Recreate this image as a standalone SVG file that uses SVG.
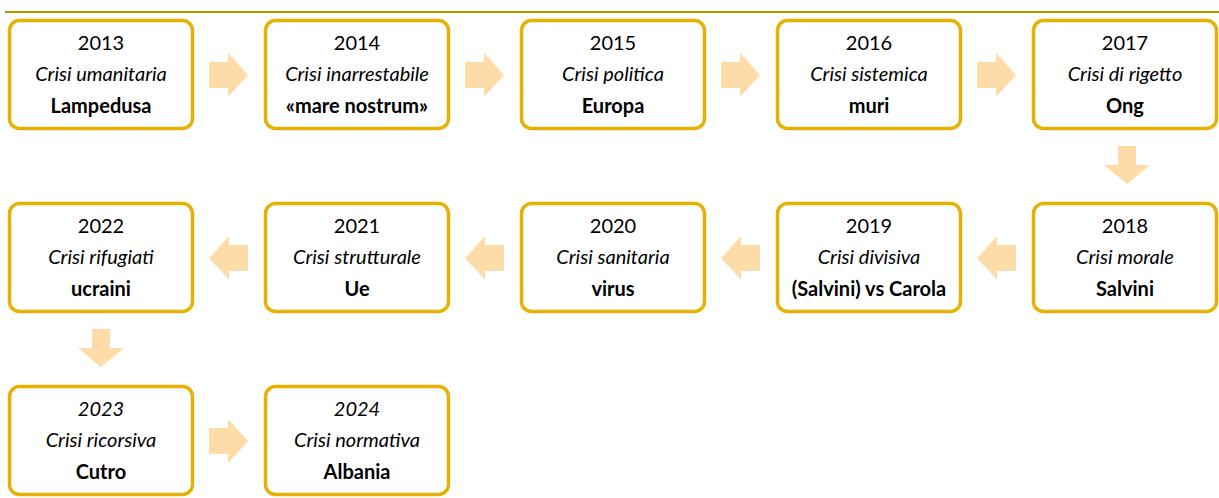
<svg xmlns="http://www.w3.org/2000/svg" width="1219" height="498" viewBox="0 0 1219 498">
<defs>
<style>
.box{fill:#fff;stroke:#E8B004;stroke-width:3.5}
.t{font-family:Lato,"Liberation Sans",sans-serif;font-size:20px;fill:#000;text-anchor:middle}
.i{font-style:italic}
.b{font-weight:bold}
.arr{fill:#FFDBA8}
</style>
<path id="ar" d="M0,-13 H19 V-22 L39,0 L19,22 V13 H0 Z"/>
<path id="ad" d="M-9,0 H9 V19 H23 L0,38 L-23,19 H-9 Z"/>
</defs>
<rect width="1219" height="498" fill="#fff"/>
<line x1="5" y1="12" x2="1219" y2="12" stroke="#C09000" stroke-width="2"/>
<g id="connectors" class="arr">
<use href="#ar" x="209" y="75"/>
<use href="#ar" x="465" y="75"/>
<use href="#ar" x="721" y="75"/>
<use href="#ar" x="977" y="75"/>
<use href="#ad" x="1127" y="146"/>
<use href="#ar" transform="translate(1016,258) scale(-1,1)"/>
<use href="#ar" transform="translate(760,258) scale(-1,1)"/>
<use href="#ar" transform="translate(504,258) scale(-1,1)"/>
<use href="#ar" transform="translate(248,258) scale(-1,1)"/>
<use href="#ad" x="101" y="329"/>
<use href="#ar" x="209" y="441"/>
</g>
<g id="n2013"><rect class="box" x="9.5" y="20.5" width="183" height="108" rx="10"/>
<text class="t" x="101" y="50">2013</text><text class="t i" x="101" y="81">Crisi umanitaria</text><text class="t b" x="101" y="113">Lampedusa</text></g>
<g id="n2014"><rect class="box" x="265.5" y="20.5" width="183" height="108" rx="10"/>
<text class="t" x="357" y="50">2014</text><text class="t i" x="357" y="81">Crisi inarrestabile</text><text class="t b" x="357" y="113">«mare nostrum»</text></g>
<g id="n2015"><rect class="box" x="521.5" y="20.5" width="183" height="108" rx="10"/>
<text class="t" x="613" y="50">2015</text><text class="t i" x="613" y="81">Crisi politica</text><text class="t b" x="613" y="113">Europa</text></g>
<g id="n2016"><rect class="box" x="777.5" y="20.5" width="183" height="108" rx="10"/>
<text class="t" x="869" y="50">2016</text><text class="t i" x="869" y="81">Crisi sistemica</text><text class="t b" x="869" y="113">muri</text></g>
<g id="n2017"><rect class="box" x="1033.5" y="20.5" width="183" height="108" rx="10"/>
<text class="t" x="1125" y="50">2017</text><text class="t i" x="1125" y="81">Crisi di rigetto</text><text class="t b" x="1125" y="113">Ong</text></g>
<g id="n2018"><rect class="box" x="1033.5" y="203.5" width="183" height="108" rx="10"/>
<text class="t" x="1125" y="233">2018</text><text class="t i" x="1125" y="264">Crisi morale</text><text class="t b" x="1125" y="296">Salvini</text></g>
<g id="n2019"><rect class="box" x="777.5" y="203.5" width="183" height="108" rx="10"/>
<text class="t" x="869" y="233">2019</text><text class="t i" x="869" y="264">Crisi divisiva</text><text class="t b" x="869" y="296">(Salvini) vs Carola</text></g>
<g id="n2020"><rect class="box" x="521.5" y="203.5" width="183" height="108" rx="10"/>
<text class="t" x="613" y="233">2020</text><text class="t i" x="613" y="264">Crisi sanitaria</text><text class="t b" x="613" y="296">virus</text></g>
<g id="n2021"><rect class="box" x="265.5" y="203.5" width="183" height="108" rx="10"/>
<text class="t" x="357" y="233">2021</text><text class="t i" x="357" y="264">Crisi strutturale</text><text class="t b" x="357" y="296">Ue</text></g>
<g id="n2022"><rect class="box" x="9.5" y="203.5" width="183" height="108" rx="10"/>
<text class="t" x="101" y="233">2022</text><text class="t i" x="101" y="264">Crisi rifugiati</text><text class="t b" x="101" y="296">ucraini</text></g>
<g id="n2023"><rect class="box" x="9.5" y="386.5" width="183" height="108" rx="10"/>
<text class="t i" x="101" y="416">2023</text><text class="t i" x="101" y="447">Crisi ricorsiva</text><text class="t b" x="101" y="479">Cutro</text></g>
<g id="n2024"><rect class="box" x="265.5" y="386.5" width="183" height="108" rx="10"/>
<text class="t i" x="357" y="416">2024</text><text class="t i" x="357" y="447">Crisi normativa</text><text class="t b" x="357" y="479">Albania</text></g>
</svg>
